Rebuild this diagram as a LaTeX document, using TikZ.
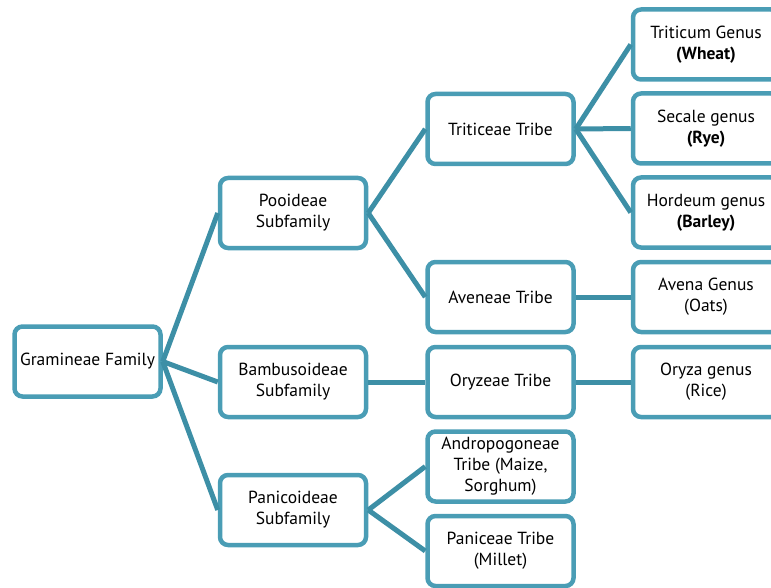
\documentclass[tikz,border=0pt]{standalone}
\usepackage{fontspec}
\setmainfont{PT Sans}
\definecolor{boxc}{HTML}{4A9DB5}
\definecolor{linec}{HTML}{3D8FA6}
\tikzset{
  box/.style={draw=boxc, line width=4.5pt, rounded corners=8pt, fill=white,
    minimum width=146pt, minimum height=70pt, align=center, inner sep=2pt,
    font=\fontsize{17.5pt}{21pt}\selectfont},
  conn/.style={draw=linec, line width=5pt}
}
\begin{document}
\begin{tikzpicture}[x=1pt,y=1pt]
\useasboundingbox (0,0) rectangle (771,-588);
\clip (0,0) rectangle (771,-588);
\node[box] (gram) at (87.5,-361.5) {Gramineae Family};
\node[box] (pooi) at (293,-213) {Pooideae\\Subfamily};
\node[box] (bamb) at (293,-382) {Bambusoideae\\Subfamily};
\node[box] (pani) at (293,-510) {Panicoideae\\Subfamily};
\node[box] (trit) at (500.5,-129) {Triticeae Tribe};
\node[box] (aven) at (500.5,-297) {Aveneae Tribe};
\node[box] (oryz) at (500.5,-382) {Oryzeae Tribe};
\node[box] (andr) at (500.5,-466.5) {Andropogoneae\\Tribe (Maize,\\Sorghum)};
\node[box] (panc) at (500.5,-551) {Paniceae Tribe\\(Millet)};
\node[box] (triticum) at (706,-44.5) {Triticum Genus\\\textbf{(Wheat)}};
\node[box] (secale) at (706,-128.5) {Secale genus\\\textbf{(Rye)}};
\node[box] (hordeum) at (706,-212.5) {Hordeum genus\\\textbf{(Barley)}};
\node[box] (avena) at (706,-297) {Avena Genus\\(Oats)};
\node[box] (oryza) at (706,-382) {Oryza genus\\(Rice)};
\foreach \a/\b in {gram/pooi, gram/bamb, gram/pani, pooi/trit, pooi/aven,
  bamb/oryz, pani/andr, pani/panc, trit/triticum, trit/secale, trit/hordeum,
  aven/avena, oryz/oryza}
  \draw[conn] (\a.east) -- (\b.west);
\end{tikzpicture}
\end{document}
